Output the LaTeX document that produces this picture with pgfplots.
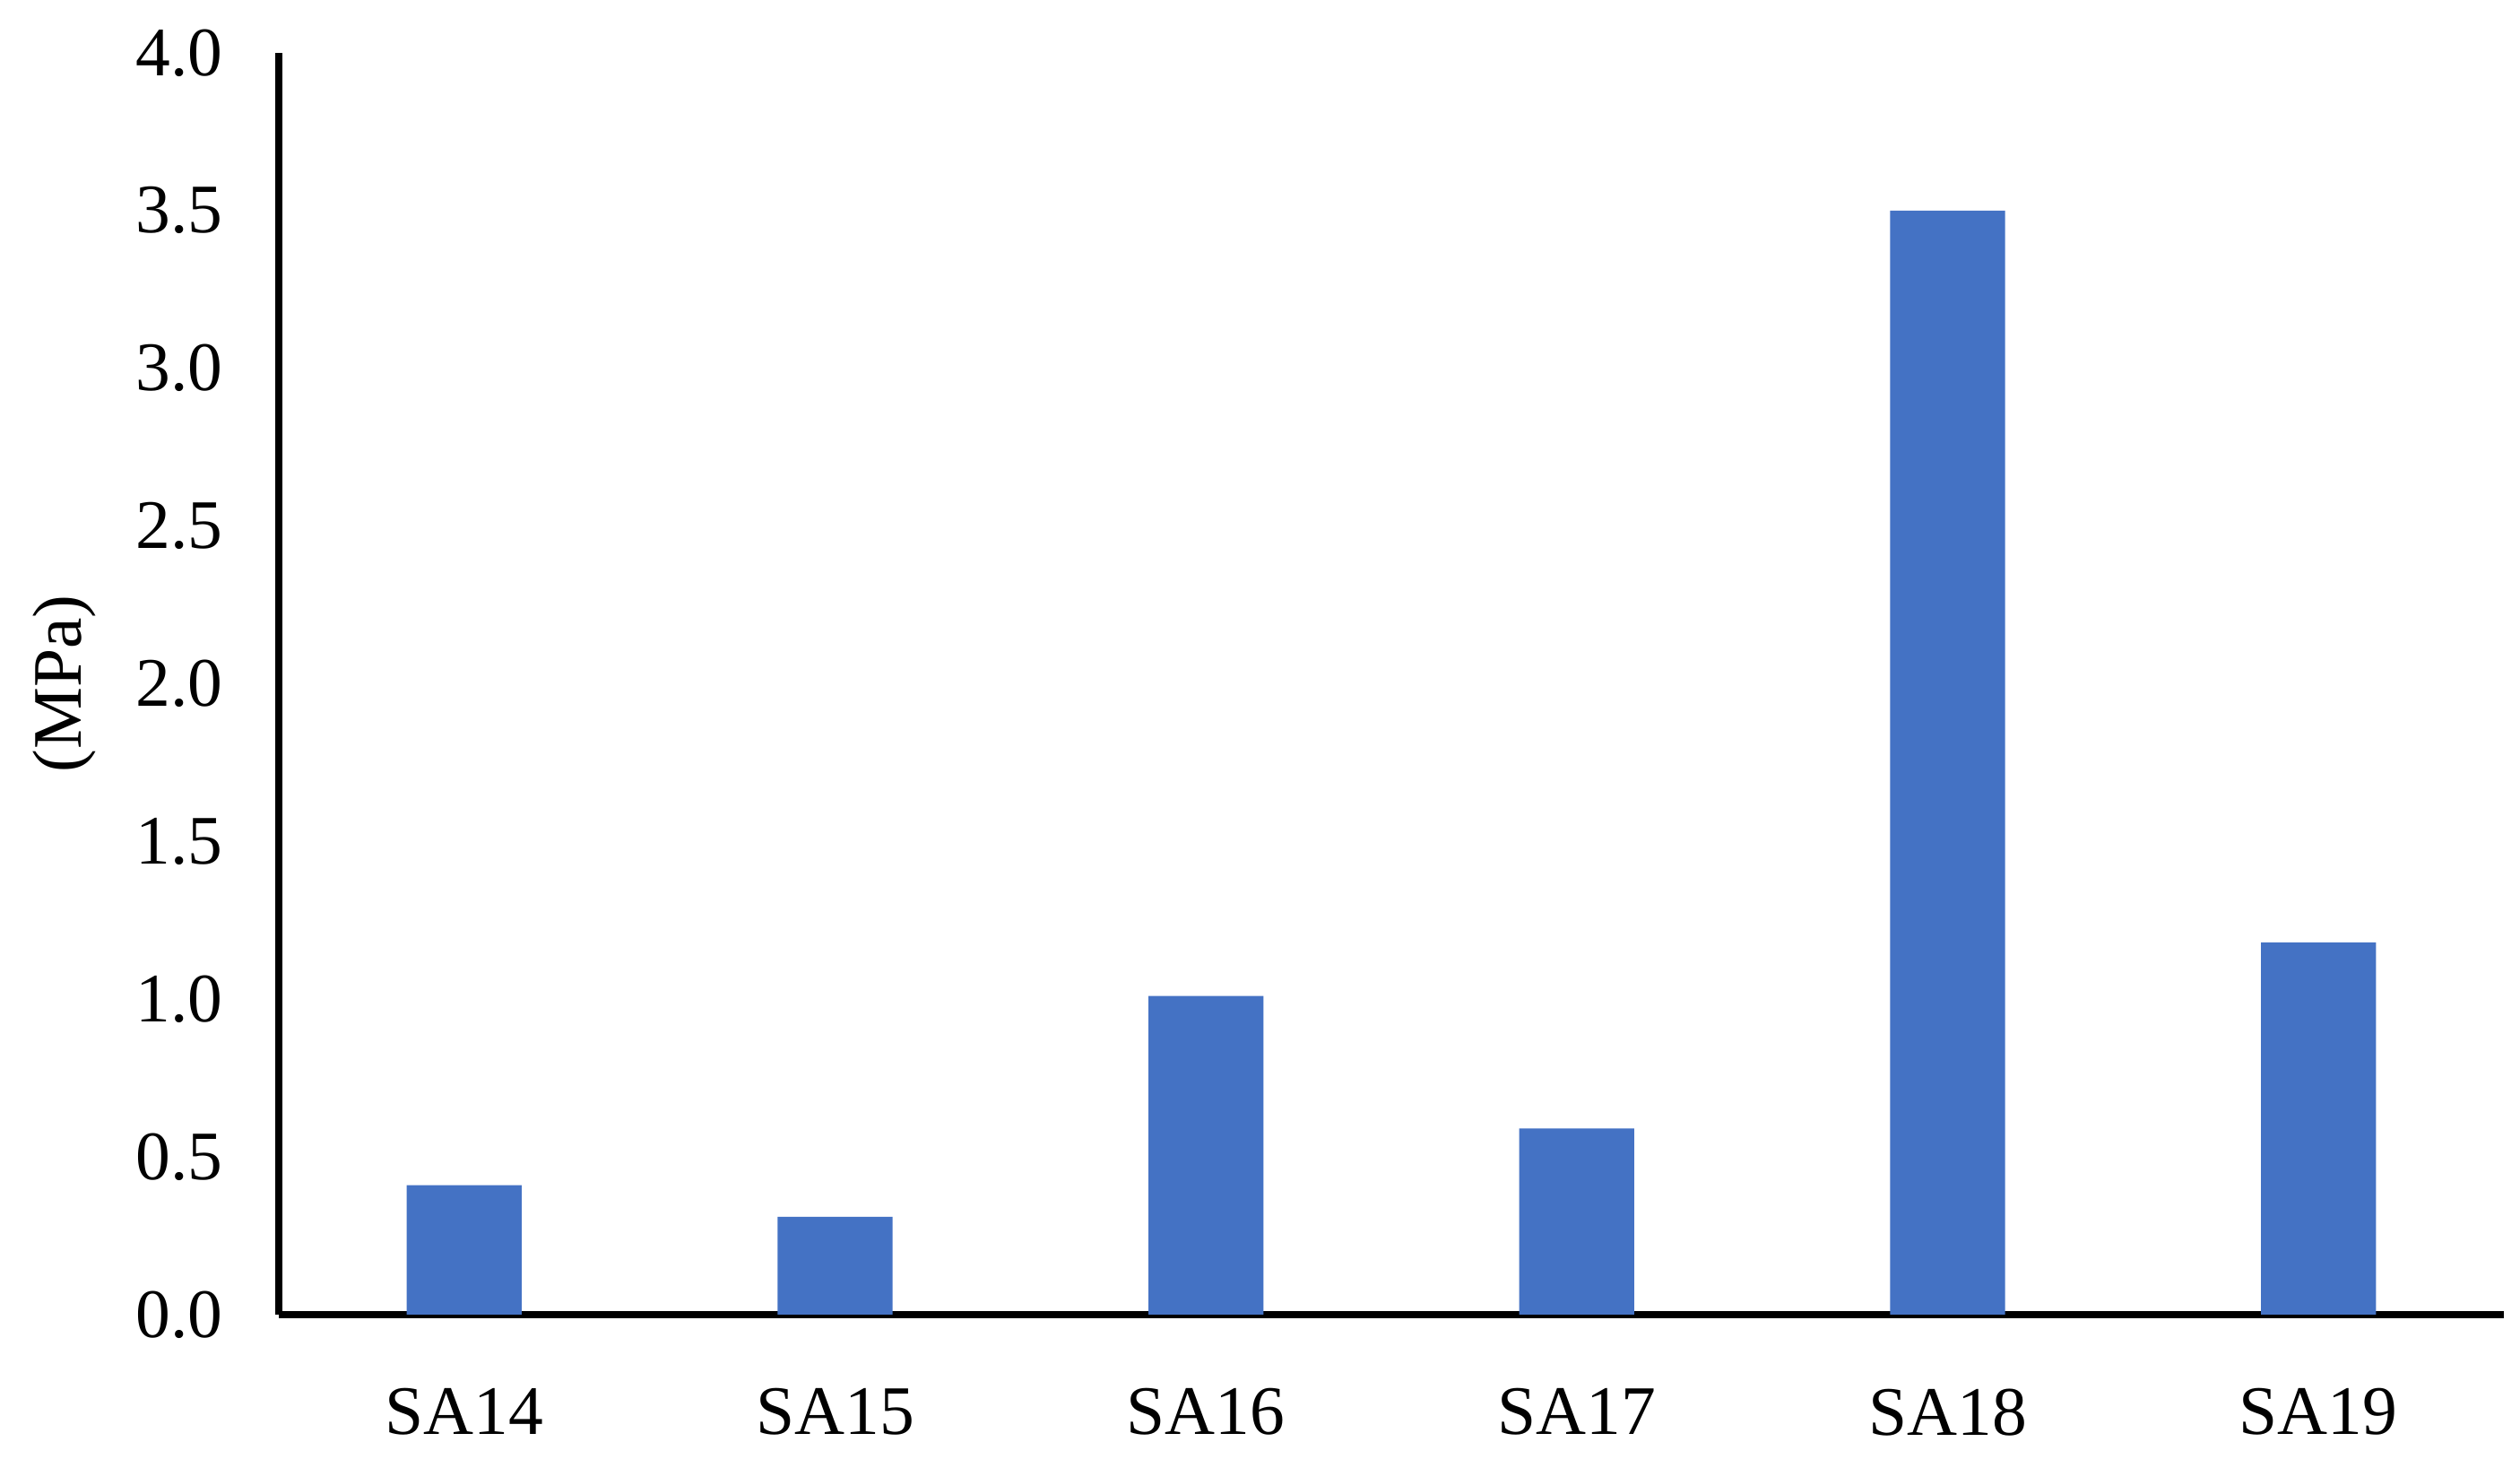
\documentclass[border=0pt]{standalone}
\usepackage{fontspec}
\setmainfont{Liberation Serif}
\usepackage{pgfplots}
\pgfplotsset{compat=1.18}
\definecolor{barblue}{HTML}{4472C4}

\begin{document}
\begin{tikzpicture}
\begin{axis}[
  name=ax,
  scale only axis,
  width=496.4pt,
  height=281.4pt,
  ymin=0, ymax=4,
  xmin=-0.5, xmax=5.5,
  ytick={0,0.5,...,4},
  xtick={0,...,5},
  xticklabels={SA14,SA15,SA16,SA17,SA18,SA19},
  axis x line*=bottom,
  axis y line*=left,
  axis line style={line width=1.6pt, -},
  major tick length=0pt,
  tick style={draw=none},
  ylabel={(MPa)},
  ylabel style={font=\fontsize{15.5}{17}\selectfont, yshift=2pt},
  tick label style={font=\fontsize{15.5}{17}\selectfont},
  yticklabel style={xshift=-9pt},
  xticklabel style={yshift=-13pt},
  /pgf/number format/assume math mode=true,
  yticklabel={\pgfmathprintnumber[fixed,fixed zerofill,precision=1]{\tick}},
  ybar,
  bar width=0.31,
  bar shift=0pt,
  clip=false,
]
\addplot[fill=barblue, draw=none] coordinates {
  (0,0.41)
  (1,0.31)
  (2,1.01)
  (3,0.59)
  (4,3.50)
  (5,1.18)
};
\end{axis}
\path ([xshift=-62.2pt,yshift=-34.2pt]ax.south west) rectangle ([xshift=3.6pt,yshift=11.8pt]ax.north east);
\end{tikzpicture}
\end{document}
